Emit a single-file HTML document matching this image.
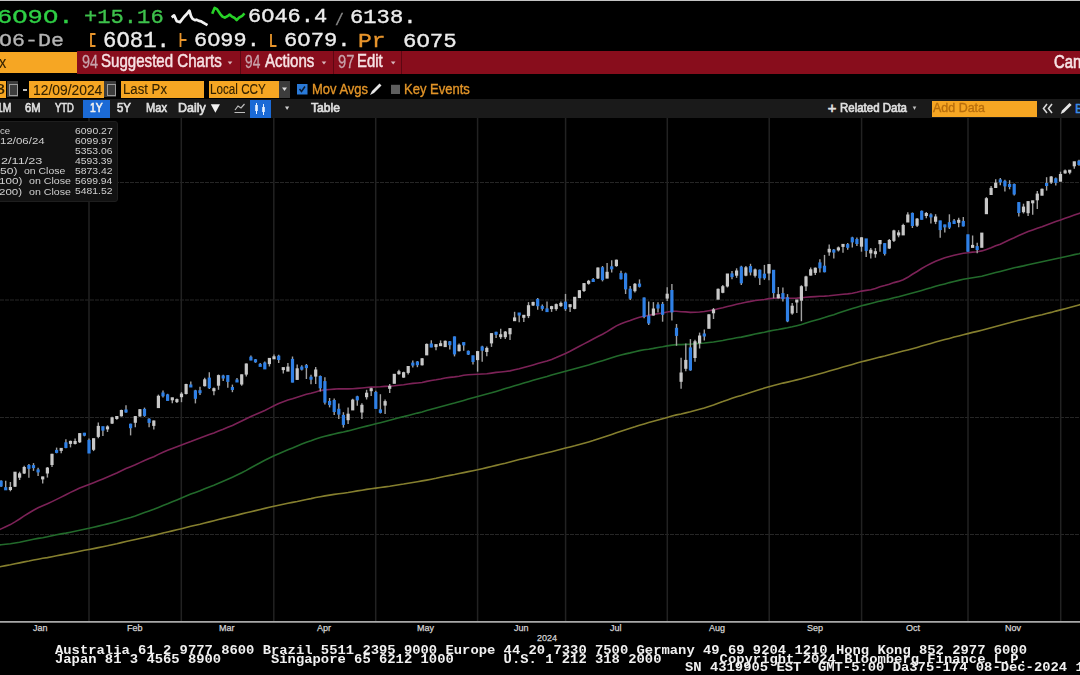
<!DOCTYPE html>
<html><head><meta charset="utf-8">
<style>
html,body{margin:0;padding:0;background:#000;width:1080px;height:675px;overflow:hidden;position:relative}
.a{position:absolute;white-space:pre;line-height:1}
.t{position:absolute;white-space:pre;line-height:1;transform-origin:0 0}
#topline{position:absolute;left:0;top:0;width:1080px;height:1px;background:#c4c4c4}
#redbar{position:absolute;left:77px;top:51px;width:1003px;height:23px;background:#880d1c}
.sep{position:absolute;top:51px;width:1px;height:23px;background:#5c0712}
.ob{position:absolute;background:#f6a623}
#band{position:absolute;left:0;top:99px;width:1080px;height:19px;background:#1a1a1a}
svg{position:absolute;left:0;top:0}
.gr{stroke:#262626;stroke-width:1.1;stroke-dasharray:4 1}
.gv{stroke:#222;stroke-width:1.5}
.m50{fill:none;stroke:#7c2257;stroke-width:1.6}
.m100{fill:none;stroke:#226a2b;stroke-width:1.6}
.m200{fill:none;stroke:#857f2e;stroke-width:1.6}
.u{fill:#c8c8c8}
.d{fill:#2f80e6}
.cg{filter:blur(0.35px)}
.wu{stroke:#a0a0a0;stroke-width:1.4}
.wd{stroke:#a0a0a0;stroke-width:1.4}
#legend{position:absolute;left:-4px;top:121px;width:120px;height:78.5px;background:#121212;border-radius:3px;border:1px solid #1e1e1e}
.lg{font-family:"Liberation Sans",sans-serif;color:#c6c6c6;font-size:9.3px}
.ax{font-family:"Liberation Sans",sans-serif;color:#d4d4d4;font-size:9px;top:624px;-webkit-text-stroke:0.25px #d4d4d4}
.ft{font-family:"Liberation Mono",monospace;font-weight:bold;color:#f0f0f0;font-size:13.85px;transform-origin:0 0;transform:scaleY(0.92)}
</style></head><body>
<div id="topline"></div>
<svg width="480" height="50" style="left:0;top:0">
<polyline points="171.7,17.4 174.1,15.4 176.8,21.3 180,22.1 183.9,17 187,13.8 189.4,10.7 191,16.2 192.6,18.9 194.9,20.1 196.5,19.7 198.9,20.9 201.2,21.3 202.8,22.5 204.4,23.3 207.5,25.2" fill="none" stroke="#f2f2f2" stroke-width="2.7" stroke-linejoin="round"/>
<polyline points="212.2,13.8 214.6,7.9 217,9.1 220.1,13.8 222.5,16.6 224.8,17.7 228,15.8 229.6,14.6 231.9,16.6 234.3,17.7 236.7,20.1 239,17.7 242.2,15.8 244.5,13.4" fill="none" stroke="#27d227" stroke-width="2.6" stroke-linejoin="round"/>
<path d="M95.5,34 L91,34 L91,46 L95.5,46" fill="none" stroke="#e8952c" stroke-width="1.8"/>
<path d="M180.5,33 L180.5,47 M180.5,40 L186.5,40" fill="none" stroke="#e8952c" stroke-width="1.8"/>
<path d="M271,34 L271,46 L276.5,46" fill="none" stroke="#e8952c" stroke-width="1.8"/>
</svg>
<!-- red bar -->
<div class="ob" style="left:0;top:52px;width:77px;height:21px"></div>
<div id="redbar"></div>
<div class="sep" style="left:240px"></div>
<div class="sep" style="left:333px"></div>
<div class="sep" style="left:401px"></div>
<svg width="480" height="80" style="left:0;top:0">
<path d="M227.7,61.4 L232.4,61.4 L230,64.5 Z" fill="#d8b8bc"/>
<path d="M321.6,61.4 L326.3,61.4 L324,64.5 Z" fill="#d8b8bc"/>
<path d="M390.8,61.4 L395.5,61.4 L393.2,64.5 Z" fill="#d8b8bc"/>
</svg>
<!-- row 3 -->
<div class="ob" style="left:0;top:81px;width:6px;height:17px"></div>
<div class="a" style="left:7px;top:81px;width:11px;height:16px;background:#3c3c3c"></div>
<div class="a" style="left:9px;top:84px;width:7px;height:10px;border:1px solid #9a9a9a"></div>
<div class="a" style="left:23px;top:89px;width:4px;height:1.5px;background:#bbb"></div>
<div class="ob" style="left:29px;top:81px;width:75px;height:17px"></div>
<div class="a" style="left:104px;top:81px;width:12px;height:16px;background:#3c3c3c"></div>
<div class="a" style="left:107px;top:84px;width:7px;height:10px;border:1px solid #9a9a9a"></div>
<div class="ob" style="left:121px;top:81px;width:83px;height:16.5px"></div>
<div class="ob" style="left:208.5px;top:81px;width:70px;height:16.5px"></div>
<div class="a" style="left:278.5px;top:81px;width:11px;height:16.5px;background:#3c3c3c"></div>
<svg width="480" height="120" style="left:0;top:0">
<path d="M282,87.5 L287,87.5 L284.5,91 Z" fill="#ddd"/>
<rect x="297" y="84" width="10.5" height="10.5" fill="#2a7ad8"/>
<path d="M299.5,89 L301.5,91.5 L305,86.5" fill="none" stroke="#0a1a30" stroke-width="1.5"/>
<path d="M370,95 L372,91 L379.5,83.5 L381.5,85.5 L374,93 Z" fill="#e6e6e6"/>
<rect x="391" y="84.8" width="9" height="9.2" fill="#5e5e5e"/>
</svg>
<!-- row 4 -->
<div id="band"></div>
<div class="a" style="left:83px;top:99.5px;width:27px;height:18.5px;background:#1b6ad6"></div>
<div class="a" style="left:250px;top:99.5px;width:21px;height:18.5px;background:#1b6ad6"></div>
<div class="ob" style="left:932px;top:100.5px;width:105px;height:16px"></div>
<svg width="1080" height="120" style="left:0;top:0">
<path d="M210.8,104.3 L220,104.3 L215.4,112.7 Z" fill="#f2f2f2"/>
<path d="M234.5,112.5 L245,112.5 M235,110 L238,106 L241,108 L244.5,104" fill="none" stroke="#bdbdbd" stroke-width="1.2"/>
<path d="M256.5,103 L256.5,114 M263.5,104 L263.5,115" stroke="#e6f0ff" stroke-width="1"/>
<rect x="255.2" y="105" width="2.6" height="6" fill="#e6f0ff"/>
<rect x="262.2" y="107" width="2.6" height="5" fill="#e6f0ff"/>
<path d="M285,106.5 L289.2,106.5 L287.1,110 Z" fill="#d0d0d0"/>
<path d="M912.7,106.5 L916.3,106.5 L914.5,110 Z" fill="#c0c0c0"/>
<path d="M1047,104 L1043.5,108.5 L1047,113 M1052,104 L1048.5,108.5 L1052,113" fill="none" stroke="#d8d8d8" stroke-width="1.6"/>
<path d="M1060.7,114 L1062,110.5 L1069.5,103 L1071.6,105 L1064,112.5 Z" fill="#e6e6e6"/>
</svg>
<div class="t" style="left:-2.79px;top:7.63px;font-family:&quot;Liberation Mono&quot;;font-weight:normal;font-size:20.74px;color:#2fd045;transform:scaleX(1.23);-webkit-text-stroke:0.35px #2fd045">6O9O.</div>
<div class="t" style="left:83.67px;top:7.63px;font-family:&quot;Liberation Mono&quot;;font-weight:normal;font-size:20.74px;color:#3ec24c;transform:scaleX(1.067);-webkit-text-stroke:0.35px #3ec24c">+15.16</div>
<div class="t" style="left:247.66px;top:8.24px;font-family:&quot;Liberation Mono&quot;;font-weight:normal;font-size:19.56px;color:#ececec;transform:scaleX(1.125);-webkit-text-stroke:0.35px #ececec">6O46.4</div>
<div class="t" style="left:335.12px;top:13.39px;font-family:&quot;Liberation Mono&quot;;font-weight:normal;font-size:16.89px;color:#8a8a8a;transform:scaleX(0.863);-webkit-text-stroke:0.35px #8a8a8a">/</div>
<div class="t" style="left:350.45px;top:8.65px;font-family:&quot;Liberation Mono&quot;;font-weight:normal;font-size:19.41px;color:#ececec;transform:scaleX(1.143);-webkit-text-stroke:0.35px #ececec">6138.</div>
<div class="t" style="left:-1.08px;top:31.78px;font-family:&quot;Liberation Mono&quot;;font-weight:normal;font-size:19.12px;color:#b4b4b4;transform:scaleX(1.131);-webkit-text-stroke:0.35px #b4b4b4">O6-De</div>
<div class="t" style="left:102.84px;top:30.89px;font-family:&quot;Liberation Mono&quot;;font-weight:normal;font-size:21.18px;color:#ececec;transform:scaleX(1.053);-webkit-text-stroke:0.35px #ececec">6O81.</div>
<div class="t" style="left:194.26px;top:31.37px;font-family:&quot;Liberation Mono&quot;;font-weight:normal;font-size:20.29px;color:#ececec;transform:scaleX(1.081);-webkit-text-stroke:0.35px #ececec">6O99.</div>
<div class="t" style="left:283.75px;top:31.37px;font-family:&quot;Liberation Mono&quot;;font-weight:normal;font-size:20.29px;color:#ececec;transform:scaleX(1.094);-webkit-text-stroke:0.35px #ececec">6O79.</div>
<div class="t" style="left:358.47px;top:32.0px;font-family:&quot;Liberation Mono&quot;;font-weight:normal;font-size:20.0px;color:#e8952c;transform:scaleX(1.146);-webkit-text-stroke:0.35px #e8952c">Pr</div>
<div class="t" style="left:403.14px;top:31.8px;font-family:&quot;Liberation Mono&quot;;font-weight:normal;font-size:20.0px;color:#ececec;transform:scaleX(1.117);-webkit-text-stroke:0.35px #ececec">6O75</div>
<div class="t" style="left:101.04px;top:52.99px;font-family:&quot;Liberation Sans&quot;;font-weight:normal;font-size:17.55px;color:#f6e2e4;transform:scaleX(0.86);-webkit-text-stroke:0.5px #f6e2e4">Suggested Charts</div>
<div class="t" style="left:264.9px;top:52.99px;font-family:&quot;Liberation Sans&quot;;font-weight:normal;font-size:17.57px;color:#f6e2e4;transform:scaleX(0.855);-webkit-text-stroke:0.5px #f6e2e4">Actions</div>
<div class="t" style="left:357.41px;top:52.99px;font-family:&quot;Liberation Sans&quot;;font-weight:normal;font-size:17.57px;color:#f6e2e4;transform:scaleX(0.847);-webkit-text-stroke:0.5px #f6e2e4">Edit</div>
<div class="t" style="left:1054.26px;top:51.95px;font-family:&quot;Liberation Sans&quot;;font-weight:normal;font-size:19.01px;color:#f6e2e4;transform:scaleX(0.78);-webkit-text-stroke:0.7px #f6e2e4">Can</div>
<div class="t" style="left:82.18px;top:52.15px;font-family:&quot;Liberation Sans&quot;;font-weight:normal;font-size:19.01px;color:#c8a4ac;transform:scaleX(0.761);-webkit-text-stroke:0.3px #c8a4ac">94</div>
<div class="t" style="left:244.51px;top:52.15px;font-family:&quot;Liberation Sans&quot;;font-weight:normal;font-size:19.01px;color:#c8a4ac;transform:scaleX(0.725);-webkit-text-stroke:0.3px #c8a4ac">94</div>
<div class="t" style="left:338.16px;top:52.15px;font-family:&quot;Liberation Sans&quot;;font-weight:normal;font-size:19.01px;color:#c8a4ac;transform:scaleX(0.776);-webkit-text-stroke:0.3px #c8a4ac">97</div>
<div class="t" style="left:-4.72px;top:82.09px;font-family:&quot;Liberation Sans&quot;;font-weight:normal;font-size:14.72px;color:#332200;transform:scaleX(1.229);-webkit-text-stroke:0.1px #332200">3</div>
<div class="t" style="left:33.03px;top:82.61px;font-family:&quot;Liberation Sans&quot;;font-weight:normal;font-size:14.12px;color:#332200;transform:scaleX(0.981);-webkit-text-stroke:0.1px #332200">12/09/2024</div>
<div class="t" style="left:122.54px;top:81.23px;font-family:&quot;Liberation Sans&quot;;font-weight:normal;font-size:15.43px;color:#332200;transform:scaleX(0.856);-webkit-text-stroke:0.1px #332200">Last Px</div>
<div class="t" style="left:210.06px;top:81.95px;font-family:&quot;Liberation Sans&quot;;font-weight:normal;font-size:14.59px;color:#332200;transform:scaleX(0.801);-webkit-text-stroke:0.1px #332200">Local CCY</div>
<div class="t" style="left:311.86px;top:81.69px;font-family:&quot;Liberation Sans&quot;;font-weight:normal;font-size:14.44px;color:#e39528;transform:scaleX(0.898);-webkit-text-stroke:0.35px #e39528">Mov Avgs</div>
<div class="t" style="left:404.16px;top:81.69px;font-family:&quot;Liberation Sans&quot;;font-weight:normal;font-size:14.44px;color:#e39528;transform:scaleX(0.901);-webkit-text-stroke:0.35px #e39528">Key Events</div>
<div class="t" style="left:-2.72px;top:101.37px;font-family:&quot;Liberation Sans&quot;;font-weight:normal;font-size:13.33px;color:#e0e0e0;transform:scaleX(0.774);-webkit-text-stroke:0.65px #e0e0e0">1M</div>
<div class="t" style="left:25.24px;top:101.56px;font-family:&quot;Liberation Sans&quot;;font-weight:normal;font-size:12.96px;color:#e0e0e0;transform:scaleX(0.87);-webkit-text-stroke:0.65px #e0e0e0">6M</div>
<div class="t" style="left:54.81px;top:101.4px;font-family:&quot;Liberation Sans&quot;;font-weight:normal;font-size:13.14px;color:#e0e0e0;transform:scaleX(0.721);-webkit-text-stroke:0.65px #e0e0e0">YTD</div>
<div class="t" style="left:90.08px;top:101.37px;font-family:&quot;Liberation Sans&quot;;font-weight:normal;font-size:13.33px;color:#f0f0f0;transform:scaleX(0.777);-webkit-text-stroke:0.65px #f0f0f0">1Y</div>
<div class="t" style="left:117.04px;top:101.4px;font-family:&quot;Liberation Sans&quot;;font-weight:normal;font-size:13.14px;color:#e0e0e0;transform:scaleX(0.872);-webkit-text-stroke:0.65px #e0e0e0">5Y</div>
<div class="t" style="left:145.81px;top:101.4px;font-family:&quot;Liberation Sans&quot;;font-weight:normal;font-size:13.14px;color:#e0e0e0;transform:scaleX(0.845);-webkit-text-stroke:0.65px #e0e0e0">Max</div>
<div class="t" style="left:178.21px;top:102.01px;font-family:&quot;Liberation Sans&quot;;font-weight:normal;font-size:12.45px;color:#e0e0e0;transform:scaleX(0.999);-webkit-text-stroke:0.65px #e0e0e0">Daily</div>
<div class="t" style="left:311.46px;top:102.01px;font-family:&quot;Liberation Sans&quot;;font-weight:normal;font-size:12.43px;color:#e0e0e0;transform:scaleX(0.977);-webkit-text-stroke:0.65px #e0e0e0">Table</div>
<div class="t" style="left:827.67px;top:100.53px;font-family:&quot;Liberation Sans&quot;;font-weight:normal;font-size:14.69px;color:#e0e0e0;transform:scaleX(1.0);-webkit-text-stroke:0.65px #e0e0e0">+</div>
<div class="t" style="left:839.58px;top:102.01px;font-family:&quot;Liberation Sans&quot;;font-weight:normal;font-size:12.43px;color:#e0e0e0;transform:scaleX(0.924);-webkit-text-stroke:0.65px #e0e0e0">Related Data</div>
<div class="t" style="left:933.0px;top:102.01px;font-family:&quot;Liberation Sans&quot;;font-weight:normal;font-size:12.43px;color:#b86e0c;transform:scaleX(1.003);-webkit-text-stroke:0.35px #b86e0c">Add Data</div>
<div class="t" style="left:-0.65px;top:53.57px;font-family:&quot;Liberation Sans&quot;;font-weight:normal;font-size:16.98px;color:#332200;transform:scaleX(0.859);-webkit-text-stroke:0.1px #332200">x</div>
<div class="t" style="left:1075px;top:102px;font-family:&quot;Liberation Sans&quot;;font-size:13px;color:#3a8ee8;-webkit-text-stroke:0.4px #3a8ee8">B</div>
<!-- chart -->
<svg width="1080" height="675" style="left:0;top:0">
<line x1="0" y1="182.5" x2="1080" y2="182.5" class="gr"/>
<line x1="0" y1="300.0" x2="1080" y2="300.0" class="gr"/>
<line x1="0" y1="417.5" x2="1080" y2="417.5" class="gr"/>
<line x1="0" y1="534.5" x2="1080" y2="534.5" class="gr"/>
<line x1="89" y1="118" x2="89" y2="621" class="gv"/>
<line x1="181.3" y1="118" x2="181.3" y2="621" class="gv"/>
<line x1="273.8" y1="118" x2="273.8" y2="621" class="gv"/>
<line x1="375.7" y1="118" x2="375.7" y2="621" class="gv"/>
<line x1="477.6" y1="118" x2="477.6" y2="621" class="gv"/>
<line x1="565.6" y1="118" x2="565.6" y2="621" class="gv"/>
<line x1="667.3" y1="118" x2="667.3" y2="621" class="gv"/>
<line x1="769.2" y1="118" x2="769.2" y2="621" class="gv"/>
<line x1="861.6" y1="118" x2="861.6" y2="621" class="gv"/>
<line x1="968.0" y1="118" x2="968.0" y2="621" class="gv"/>
<line x1="1060.7" y1="118" x2="1060.7" y2="621" class="gv"/>
<path d="M-8.1,568.3 L-3.5,567.4 L1.1,566.5 L5.7,565.6 L10.4,564.8 L15.0,563.8 L19.6,562.9 L24.2,561.9 L28.9,561.0 L33.5,560.0 L38.1,559.2 L42.7,558.3 L47.4,557.6 L52.0,556.7 L56.6,555.8 L61.2,554.9 L65.9,554.0 L70.5,553.1 L75.1,552.2 L79.7,551.2 L84.4,550.3 L89.0,549.5 L93.6,548.6 L98.3,547.6 L102.9,546.7 L107.5,545.8 L112.1,544.7 L116.8,543.7 L121.4,542.6 L126.0,541.5 L130.6,540.5 L135.3,539.5 L139.9,538.5 L144.5,537.5 L149.1,536.5 L153.8,535.4 L158.4,534.3 L163.0,533.1 L167.6,532.0 L172.3,530.9 L176.9,529.8 L181.5,528.7 L186.1,527.5 L190.8,526.3 L195.4,525.2 L200.0,524.2 L204.7,523.0 L209.3,521.9 L213.9,520.8 L218.5,519.6 L223.2,518.4 L227.8,517.3 L232.4,516.2 L237.0,515.1 L241.7,513.9 L246.3,512.8 L250.9,511.7 L255.5,510.6 L260.2,509.5 L264.8,508.4 L269.4,507.3 L274.0,506.2 L278.7,505.2 L283.3,504.2 L287.9,503.3 L292.5,502.4 L297.2,501.5 L301.8,500.5 L306.4,499.5 L311.0,498.6 L315.7,497.5 L320.3,496.7 L324.9,495.9 L329.6,495.1 L334.2,494.4 L338.8,493.8 L343.4,493.2 L348.1,492.5 L352.7,491.7 L357.3,490.9 L361.9,490.2 L366.6,489.4 L371.2,488.7 L375.8,488.1 L380.4,487.5 L385.1,486.9 L389.7,486.3 L394.3,485.5 L398.9,484.7 L403.6,484.0 L408.2,483.2 L412.8,482.5 L417.4,481.7 L422.1,480.9 L426.7,480.1 L431.3,479.2 L436.0,478.3 L440.6,477.3 L445.2,476.3 L449.8,475.4 L454.5,474.5 L459.1,473.5 L463.7,472.6 L468.3,471.6 L473.0,470.7 L477.6,469.8 L482.2,468.7 L486.8,467.6 L491.5,466.5 L496.1,465.4 L500.7,464.2 L505.3,463.2 L510.0,462.0 L514.6,460.8 L519.2,459.6 L523.8,458.5 L528.5,457.4 L533.1,456.3 L537.7,455.1 L542.3,454.0 L547.0,452.8 L551.6,451.7 L556.2,450.5 L560.9,449.3 L565.5,448.1 L570.1,446.9 L574.7,445.8 L579.4,444.5 L584.0,443.2 L588.6,441.9 L593.2,440.5 L597.9,438.9 L602.5,437.5 L607.1,436.0 L611.7,434.4 L616.4,432.7 L621.0,431.2 L625.6,429.7 L630.2,428.3 L634.9,426.8 L639.5,425.2 L644.1,423.9 L648.7,422.6 L653.4,421.3 L658.0,420.0 L662.6,418.7 L667.2,417.4 L671.9,416.0 L676.5,414.9 L681.1,414.0 L685.8,412.9 L690.4,411.8 L695.0,410.5 L699.6,409.2 L704.3,407.9 L708.9,406.4 L713.5,404.9 L718.1,403.2 L722.8,401.6 L727.4,399.9 L732.0,398.3 L736.6,396.8 L741.3,395.4 L745.9,393.9 L750.5,392.4 L755.1,391.0 L759.8,389.5 L764.4,388.1 L769.0,386.7 L773.6,385.5 L778.3,384.3 L782.9,383.1 L787.5,382.1 L792.2,381.0 L796.8,379.9 L801.4,378.7 L806.0,377.5 L810.7,376.2 L815.3,374.9 L819.9,373.7 L824.5,372.4 L829.2,371.1 L833.8,369.8 L838.4,368.5 L843.0,367.1 L847.7,365.7 L852.3,364.4 L856.9,363.1 L861.5,361.8 L866.2,360.6 L870.8,359.4 L875.4,358.3 L880.0,357.1 L884.7,356.0 L889.3,354.8 L893.9,353.5 L898.6,352.3 L903.2,351.1 L907.8,349.9 L912.4,348.7 L917.1,347.4 L921.7,346.1 L926.3,344.7 L930.9,343.4 L935.6,342.0 L940.2,340.8 L944.8,339.6 L949.4,338.4 L954.1,337.1 L958.7,335.9 L963.3,334.7 L967.9,333.6 L972.6,332.4 L977.2,331.4 L981.8,330.3 L986.4,329.1 L991.1,327.8 L995.7,326.5 L1000.3,325.2 L1004.9,323.9 L1009.6,322.7 L1014.2,321.4 L1018.8,320.3 L1023.5,319.2 L1028.1,318.0 L1032.7,316.9 L1037.3,315.8 L1042.0,314.7 L1046.6,313.5 L1051.2,312.4 L1055.8,311.1 L1060.5,309.9 L1065.1,308.7 L1069.7,307.5 L1074.3,306.2 L1079.0,304.9 L1083.6,303.7" class="m200"/>
<path d="M-8.1,546.0 L-3.5,545.3 L1.1,544.8 L5.7,544.2 L10.4,543.7 L15.0,543.0 L19.6,542.2 L24.2,541.2 L28.9,540.2 L33.5,539.3 L38.1,538.4 L42.7,537.7 L47.4,536.8 L52.0,535.8 L56.6,534.8 L61.2,533.9 L65.9,533.1 L70.5,532.2 L75.1,531.3 L79.7,530.3 L84.4,529.2 L89.0,528.3 L93.6,527.2 L98.3,526.1 L102.9,525.0 L107.5,523.9 L112.1,522.7 L116.8,521.4 L121.4,520.1 L126.0,518.7 L130.6,517.4 L135.3,515.9 L139.9,514.2 L144.5,512.6 L149.1,511.0 L153.8,509.3 L158.4,507.5 L163.0,505.6 L167.6,503.8 L172.3,501.8 L176.9,499.9 L181.5,497.9 L186.1,496.0 L190.8,494.1 L195.4,492.4 L200.0,490.7 L204.7,488.8 L209.3,486.9 L213.9,485.2 L218.5,483.3 L223.2,481.3 L227.8,479.3 L232.4,477.2 L237.0,475.0 L241.7,472.8 L246.3,470.4 L250.9,467.8 L255.5,465.2 L260.2,462.7 L264.8,460.3 L269.4,458.0 L274.0,455.8 L278.7,453.7 L283.3,451.7 L287.9,449.8 L292.5,448.0 L297.2,446.0 L301.8,444.1 L306.4,442.2 L311.0,440.7 L315.7,439.0 L320.3,437.6 L324.9,436.3 L329.6,435.1 L334.2,434.0 L338.8,432.9 L343.4,432.0 L348.1,430.9 L352.7,429.7 L357.3,428.5 L361.9,427.3 L366.6,426.1 L371.2,424.9 L375.8,423.8 L380.4,422.7 L385.1,421.5 L389.7,420.3 L394.3,419.0 L398.9,417.7 L403.6,416.6 L408.2,415.4 L412.8,414.3 L417.4,413.1 L422.1,412.0 L426.7,410.6 L431.3,409.3 L436.0,408.0 L440.6,406.7 L445.2,405.5 L449.8,404.3 L454.5,403.1 L459.1,401.8 L463.7,400.4 L468.3,399.0 L473.0,397.7 L477.6,396.5 L482.2,395.3 L486.8,394.1 L491.5,392.8 L496.1,391.4 L500.7,390.1 L505.3,388.6 L510.0,387.2 L514.6,385.8 L519.2,384.5 L523.8,383.1 L528.5,381.7 L533.1,380.3 L537.7,379.0 L542.3,377.7 L547.0,376.5 L551.6,375.0 L556.2,373.7 L560.9,372.4 L565.5,371.2 L570.1,370.0 L574.7,368.8 L579.4,367.5 L584.0,366.3 L588.6,365.0 L593.2,363.5 L597.9,362.0 L602.5,360.7 L607.1,359.3 L611.7,357.8 L616.4,356.2 L621.0,355.0 L625.6,353.9 L630.2,352.9 L634.9,351.7 L639.5,350.6 L644.1,349.8 L648.7,349.2 L653.4,348.4 L658.0,347.5 L662.6,346.8 L667.2,345.9 L671.9,345.1 L676.5,344.6 L681.1,344.6 L685.8,344.4 L690.4,344.3 L695.0,343.8 L699.6,343.4 L704.3,343.0 L708.9,342.5 L713.5,342.0 L718.1,341.3 L722.8,340.5 L727.4,339.5 L732.0,338.7 L736.6,337.8 L741.3,337.1 L745.9,336.1 L750.5,335.1 L755.1,334.0 L759.8,333.1 L764.4,332.2 L769.0,331.1 L773.6,330.3 L778.3,329.5 L782.9,328.6 L787.5,327.8 L792.2,326.8 L796.8,325.7 L801.4,324.5 L806.0,323.0 L810.7,321.5 L815.3,320.2 L819.9,318.9 L824.5,317.6 L829.2,316.1 L833.8,314.7 L838.4,313.1 L843.0,311.5 L847.7,309.9 L852.3,308.5 L856.9,307.2 L861.5,305.8 L866.2,304.6 L870.8,303.4 L875.4,302.3 L880.0,301.1 L884.7,300.0 L889.3,299.0 L893.9,297.8 L898.6,296.7 L903.2,295.5 L907.8,294.2 L912.4,293.0 L917.1,291.7 L921.7,290.4 L926.3,289.1 L930.9,287.8 L935.6,286.3 L940.2,285.1 L944.8,283.9 L949.4,282.6 L954.1,281.5 L958.7,280.4 L963.3,279.3 L967.9,278.5 L972.6,277.7 L977.2,277.0 L981.8,276.2 L986.4,275.0 L991.1,273.8 L995.7,272.6 L1000.3,271.4 L1004.9,270.2 L1009.6,268.9 L1014.2,267.8 L1018.8,266.9 L1023.5,265.9 L1028.1,264.8 L1032.7,263.8 L1037.3,262.8 L1042.0,261.8 L1046.6,260.8 L1051.2,259.7 L1055.8,258.7 L1060.5,257.8 L1065.1,256.7 L1069.7,255.7 L1074.3,254.6 L1079.0,253.7 L1083.6,252.5" class="m100"/>
<path d="M-8.1,533.4 L-3.5,531.2 L1.1,528.9 L5.7,526.7 L10.4,524.6 L15.0,521.9 L19.6,519.0 L24.2,515.9 L28.9,513.0 L33.5,510.2 L38.1,507.8 L42.7,505.8 L47.4,503.8 L52.0,501.6 L56.6,499.4 L61.2,497.1 L65.9,494.7 L70.5,492.4 L75.1,490.2 L79.7,488.1 L84.4,486.2 L89.0,484.6 L93.6,482.7 L98.3,480.8 L102.9,478.9 L107.5,477.0 L112.1,475.0 L116.8,472.9 L121.4,470.7 L126.0,468.5 L130.6,466.7 L135.3,464.8 L139.9,462.6 L144.5,460.5 L149.1,458.5 L153.8,456.7 L158.4,454.4 L163.0,452.2 L167.6,450.2 L172.3,448.5 L176.9,446.8 L181.5,445.1 L186.1,443.2 L190.8,441.5 L195.4,439.7 L200.0,438.1 L204.7,436.2 L209.3,434.5 L213.9,432.9 L218.5,431.1 L223.2,429.3 L227.8,427.3 L232.4,425.4 L237.0,423.2 L241.7,421.0 L246.3,418.8 L250.9,416.5 L255.5,414.4 L260.2,412.4 L264.8,410.4 L269.4,408.1 L274.0,405.7 L278.7,403.6 L283.3,401.8 L287.9,400.1 L292.5,398.8 L297.2,397.2 L301.8,395.8 L306.4,394.3 L311.0,393.2 L315.7,391.9 L320.3,390.6 L324.9,389.9 L329.6,389.5 L334.2,389.1 L338.8,388.8 L343.4,388.9 L348.1,388.9 L352.7,388.7 L357.3,388.4 L361.9,388.0 L366.6,387.5 L371.2,387.1 L375.8,387.0 L380.4,386.8 L385.1,386.4 L389.7,386.2 L394.3,385.8 L398.9,385.2 L403.6,384.7 L408.2,384.0 L412.8,383.4 L417.4,383.0 L422.1,382.5 L426.7,381.4 L431.3,380.5 L436.0,379.8 L440.6,379.0 L445.2,378.0 L449.8,377.4 L454.5,376.9 L459.1,376.2 L463.7,375.3 L468.3,374.8 L473.0,374.5 L477.6,374.2 L482.2,374.0 L486.8,373.8 L491.5,373.1 L496.1,372.4 L500.7,372.0 L505.3,371.5 L510.0,370.9 L514.6,369.8 L519.2,368.8 L523.8,367.5 L528.5,366.2 L533.1,364.9 L537.7,363.6 L542.3,362.2 L547.0,361.0 L551.6,359.4 L556.2,357.5 L560.9,355.4 L565.5,353.4 L570.1,351.2 L574.7,348.7 L579.4,346.2 L584.0,343.9 L588.6,341.5 L593.2,339.0 L597.9,336.5 L602.5,334.3 L607.1,331.6 L611.7,328.7 L616.4,325.9 L621.0,323.7 L625.6,322.0 L630.2,320.6 L634.9,318.8 L639.5,317.2 L644.1,316.2 L648.7,315.4 L653.4,314.4 L658.0,313.7 L662.6,313.0 L667.2,312.0 L671.9,311.3 L676.5,311.2 L681.1,311.8 L685.8,311.9 L690.4,312.4 L695.0,312.3 L699.6,312.0 L704.3,311.5 L708.9,310.7 L713.5,309.9 L718.1,308.7 L722.8,307.8 L727.4,306.6 L732.0,305.4 L736.6,304.2 L741.3,303.3 L745.9,302.3 L750.5,301.4 L755.1,300.5 L759.8,300.0 L764.4,299.5 L769.0,298.6 L773.6,298.3 L778.3,298.0 L782.9,297.8 L787.5,298.2 L792.2,298.2 L796.8,298.1 L801.4,297.7 L806.0,297.3 L810.7,296.9 L815.3,296.6 L819.9,296.3 L824.5,296.1 L829.2,295.7 L833.8,295.2 L838.4,294.7 L843.0,294.2 L847.7,293.9 L852.3,293.2 L856.9,292.3 L861.5,291.1 L866.2,290.4 L870.8,289.7 L875.4,288.4 L880.0,286.7 L884.7,285.6 L889.3,284.3 L893.9,282.6 L898.6,281.4 L903.2,279.7 L907.8,277.3 L912.4,274.3 L917.1,271.5 L921.7,268.5 L926.3,265.9 L930.9,263.5 L935.6,261.2 L940.2,259.5 L944.8,257.8 L949.4,256.5 L954.1,255.3 L958.7,254.2 L963.3,253.2 L967.9,252.8 L972.6,252.1 L977.2,251.7 L981.8,250.9 L986.4,249.5 L991.1,247.7 L995.7,245.8 L1000.3,244.2 L1004.9,242.0 L1009.6,239.8 L1014.2,237.8 L1018.8,235.6 L1023.5,233.6 L1028.1,231.6 L1032.7,229.9 L1037.3,228.3 L1042.0,226.7 L1046.6,225.0 L1051.2,223.2 L1055.8,221.4 L1060.5,219.9 L1065.1,218.3 L1069.7,216.7 L1074.3,215.1 L1079.0,213.4 L1083.6,211.8" class="m50"/>
<g class="cg">
<line x1="-3.5" y1="474.3" x2="-3.5" y2="481.8" class="wd"/>
<rect x="-5.1" y="475.3" width="3.2" height="3.0" class="d"/>
<line x1="1.1" y1="480.2" x2="1.1" y2="487.1" class="wd"/>
<rect x="-0.5" y="480.7" width="3.2" height="5.8" class="d"/>
<line x1="5.7" y1="480.8" x2="5.7" y2="490.0" class="wd"/>
<rect x="4.1" y="487.2" width="3.2" height="3.1" class="d"/>
<line x1="10.4" y1="482.0" x2="10.4" y2="491.3" class="wu"/>
<rect x="8.8" y="487.0" width="3.2" height="3.0" class="u"/>
<line x1="15.0" y1="471.9" x2="15.0" y2="487.1" class="wu"/>
<rect x="13.4" y="471.7" width="3.2" height="15.0" class="u"/>
<line x1="19.6" y1="471.7" x2="19.6" y2="480.0" class="wu"/>
<rect x="18.0" y="473.3" width="3.2" height="4.4" class="u"/>
<line x1="24.2" y1="465.8" x2="24.2" y2="473.9" class="wu"/>
<rect x="22.6" y="467.0" width="3.2" height="6.5" class="u"/>
<line x1="28.9" y1="464.0" x2="28.9" y2="477.8" class="wd"/>
<rect x="27.3" y="465.0" width="3.2" height="3.8" class="d"/>
<line x1="33.5" y1="463.1" x2="33.5" y2="470.9" class="wd"/>
<rect x="31.9" y="465.1" width="3.2" height="3.0" class="d"/>
<line x1="38.1" y1="467.8" x2="38.1" y2="476.0" class="wd"/>
<rect x="36.5" y="469.4" width="3.2" height="3.0" class="d"/>
<line x1="42.7" y1="476.7" x2="42.7" y2="483.6" class="wu"/>
<rect x="41.1" y="476.4" width="3.2" height="3.0" class="u"/>
<line x1="47.4" y1="467.0" x2="47.4" y2="477.6" class="wu"/>
<rect x="45.8" y="467.6" width="3.2" height="5.9" class="u"/>
<line x1="52.0" y1="453.8" x2="52.0" y2="466.9" class="wu"/>
<rect x="50.4" y="453.8" width="3.2" height="11.2" class="u"/>
<line x1="56.6" y1="447.6" x2="56.6" y2="453.3" class="wd"/>
<rect x="55.0" y="449.9" width="3.2" height="3.0" class="d"/>
<line x1="61.2" y1="448.0" x2="61.2" y2="453.2" class="wu"/>
<rect x="59.6" y="447.9" width="3.2" height="3.0" class="u"/>
<line x1="65.9" y1="439.3" x2="65.9" y2="448.2" class="wd"/>
<rect x="64.3" y="442.3" width="3.2" height="5.7" class="d"/>
<line x1="70.5" y1="440.6" x2="70.5" y2="447.4" class="wu"/>
<rect x="68.9" y="440.9" width="3.2" height="3.0" class="u"/>
<line x1="75.1" y1="438.6" x2="75.1" y2="444.5" class="wu"/>
<rect x="73.5" y="441.0" width="3.2" height="3.0" class="u"/>
<line x1="79.7" y1="433.3" x2="79.7" y2="443.1" class="wu"/>
<rect x="78.1" y="433.1" width="3.2" height="9.2" class="u"/>
<line x1="84.4" y1="432.9" x2="84.4" y2="436.3" class="wd"/>
<rect x="82.8" y="432.7" width="3.2" height="3.0" class="d"/>
<line x1="89.0" y1="438.6" x2="89.0" y2="453.0" class="wd"/>
<rect x="87.4" y="439.9" width="3.2" height="13.6" class="d"/>
<line x1="93.6" y1="438.5" x2="93.6" y2="451.1" class="wu"/>
<rect x="92.0" y="438.2" width="3.2" height="11.6" class="u"/>
<line x1="98.3" y1="422.5" x2="98.3" y2="438.3" class="wu"/>
<rect x="96.7" y="425.9" width="3.2" height="11.0" class="u"/>
<line x1="102.9" y1="426.7" x2="102.9" y2="435.9" class="wd"/>
<rect x="101.3" y="426.2" width="3.2" height="4.4" class="d"/>
<line x1="107.5" y1="425.3" x2="107.5" y2="432.0" class="wu"/>
<rect x="105.9" y="426.4" width="3.2" height="3.0" class="u"/>
<line x1="112.1" y1="416.7" x2="112.1" y2="424.0" class="wu"/>
<rect x="110.5" y="417.4" width="3.2" height="6.2" class="u"/>
<line x1="116.8" y1="416.6" x2="116.8" y2="419.7" class="wu"/>
<rect x="115.2" y="416.0" width="3.2" height="3.0" class="u"/>
<line x1="121.4" y1="409.6" x2="121.4" y2="416.6" class="wu"/>
<rect x="119.8" y="410.0" width="3.2" height="6.3" class="u"/>
<line x1="126.0" y1="405.3" x2="126.0" y2="412.8" class="wd"/>
<rect x="124.4" y="409.5" width="3.2" height="3.0" class="d"/>
<line x1="130.6" y1="423.7" x2="130.6" y2="435.4" class="wd"/>
<rect x="129.0" y="423.7" width="3.2" height="4.5" class="d"/>
<line x1="135.3" y1="416.1" x2="135.3" y2="427.2" class="wu"/>
<rect x="133.7" y="416.1" width="3.2" height="6.7" class="u"/>
<line x1="139.9" y1="409.0" x2="139.9" y2="416.8" class="wu"/>
<rect x="138.3" y="409.2" width="3.2" height="7.2" class="u"/>
<line x1="144.5" y1="407.6" x2="144.5" y2="416.8" class="wd"/>
<rect x="142.9" y="408.9" width="3.2" height="7.0" class="d"/>
<line x1="149.1" y1="418.2" x2="149.1" y2="427.3" class="wd"/>
<rect x="147.5" y="418.7" width="3.2" height="4.2" class="d"/>
<line x1="153.8" y1="420.6" x2="153.8" y2="429.4" class="wu"/>
<rect x="152.2" y="420.5" width="3.2" height="5.4" class="u"/>
<line x1="158.4" y1="394.6" x2="158.4" y2="407.6" class="wu"/>
<rect x="156.8" y="395.8" width="3.2" height="12.3" class="u"/>
<line x1="163.0" y1="390.6" x2="163.0" y2="397.6" class="wd"/>
<rect x="161.4" y="392.5" width="3.2" height="3.8" class="d"/>
<line x1="167.6" y1="393.8" x2="167.6" y2="400.5" class="wd"/>
<rect x="166.0" y="394.4" width="3.2" height="6.5" class="d"/>
<line x1="172.3" y1="397.8" x2="172.3" y2="403.3" class="wu"/>
<rect x="170.7" y="397.3" width="3.2" height="3.0" class="u"/>
<line x1="176.9" y1="398.5" x2="176.9" y2="403.0" class="wu"/>
<rect x="175.3" y="399.1" width="3.2" height="3.0" class="u"/>
<line x1="181.5" y1="392.1" x2="181.5" y2="402.2" class="wu"/>
<rect x="179.9" y="393.6" width="3.2" height="3.6" class="u"/>
<line x1="186.1" y1="383.8" x2="186.1" y2="394.6" class="wu"/>
<rect x="184.5" y="384.0" width="3.2" height="10.0" class="u"/>
<line x1="190.8" y1="381.6" x2="190.8" y2="386.9" class="wd"/>
<rect x="189.2" y="384.5" width="3.2" height="3.0" class="d"/>
<line x1="195.4" y1="389.8" x2="195.4" y2="403.4" class="wd"/>
<rect x="193.8" y="390.3" width="3.2" height="8.5" class="d"/>
<line x1="200.0" y1="386.7" x2="200.0" y2="395.1" class="wd"/>
<rect x="198.4" y="390.2" width="3.2" height="3.0" class="d"/>
<line x1="204.7" y1="377.8" x2="204.7" y2="386.6" class="wu"/>
<rect x="203.1" y="379.3" width="3.2" height="6.9" class="u"/>
<line x1="209.3" y1="372.3" x2="209.3" y2="389.1" class="wd"/>
<rect x="207.7" y="377.6" width="3.2" height="10.6" class="d"/>
<line x1="213.9" y1="387.5" x2="213.9" y2="395.3" class="wu"/>
<rect x="212.3" y="388.2" width="3.2" height="3.0" class="u"/>
<line x1="218.5" y1="374.5" x2="218.5" y2="389.8" class="wu"/>
<rect x="216.9" y="375.1" width="3.2" height="10.6" class="u"/>
<line x1="223.2" y1="374.7" x2="223.2" y2="381.1" class="wd"/>
<rect x="221.6" y="375.5" width="3.2" height="3.0" class="d"/>
<line x1="227.8" y1="375.2" x2="227.8" y2="387.8" class="wd"/>
<rect x="226.2" y="375.1" width="3.2" height="6.8" class="d"/>
<line x1="232.4" y1="384.6" x2="232.4" y2="392.2" class="wd"/>
<rect x="230.8" y="387.0" width="3.2" height="3.0" class="d"/>
<line x1="237.0" y1="378.1" x2="237.0" y2="382.0" class="wd"/>
<rect x="235.4" y="379.5" width="3.2" height="3.0" class="d"/>
<line x1="241.7" y1="374.4" x2="241.7" y2="385.8" class="wu"/>
<rect x="240.1" y="374.3" width="3.2" height="10.2" class="u"/>
<line x1="246.3" y1="363.6" x2="246.3" y2="376.5" class="wu"/>
<rect x="244.7" y="363.5" width="3.2" height="11.1" class="u"/>
<line x1="250.9" y1="355.4" x2="250.9" y2="360.2" class="wd"/>
<rect x="249.3" y="356.7" width="3.2" height="3.8" class="d"/>
<line x1="255.5" y1="359.0" x2="255.5" y2="362.8" class="wd"/>
<rect x="253.9" y="359.3" width="3.2" height="3.0" class="d"/>
<line x1="260.2" y1="363.0" x2="260.2" y2="366.0" class="wd"/>
<rect x="258.6" y="363.9" width="3.2" height="3.0" class="d"/>
<line x1="264.8" y1="361.5" x2="264.8" y2="369.0" class="wd"/>
<rect x="263.2" y="362.5" width="3.2" height="6.9" class="d"/>
<line x1="269.4" y1="358.2" x2="269.4" y2="366.5" class="wu"/>
<rect x="267.8" y="357.9" width="3.2" height="6.2" class="u"/>
<line x1="274.0" y1="354.6" x2="274.0" y2="359.0" class="wu"/>
<rect x="272.4" y="356.3" width="3.2" height="3.0" class="u"/>
<line x1="278.7" y1="354.8" x2="278.7" y2="362.9" class="wd"/>
<rect x="277.1" y="355.7" width="3.2" height="4.3" class="d"/>
<line x1="283.3" y1="367.8" x2="283.3" y2="373.5" class="wu"/>
<rect x="281.7" y="367.1" width="3.2" height="3.0" class="u"/>
<line x1="287.9" y1="363.0" x2="287.9" y2="371.1" class="wu"/>
<rect x="286.3" y="366.6" width="3.2" height="5.0" class="u"/>
<line x1="292.5" y1="356.5" x2="292.5" y2="382.4" class="wd"/>
<rect x="290.9" y="358.9" width="3.2" height="23.7" class="d"/>
<line x1="297.2" y1="364.6" x2="297.2" y2="379.8" class="wu"/>
<rect x="295.6" y="368.3" width="3.2" height="11.6" class="u"/>
<line x1="301.8" y1="365.2" x2="301.8" y2="370.4" class="wd"/>
<rect x="300.2" y="366.6" width="3.2" height="3.1" class="d"/>
<line x1="306.4" y1="364.0" x2="306.4" y2="379.0" class="wd"/>
<rect x="304.8" y="365.1" width="3.2" height="3.0" class="d"/>
<line x1="311.0" y1="374.8" x2="311.0" y2="384.2" class="wd"/>
<rect x="309.4" y="376.7" width="3.2" height="3.0" class="d"/>
<line x1="315.7" y1="367.0" x2="315.7" y2="384.1" class="wu"/>
<rect x="314.1" y="369.5" width="3.2" height="7.1" class="u"/>
<line x1="320.3" y1="375.6" x2="320.3" y2="391.4" class="wd"/>
<rect x="318.7" y="376.0" width="3.2" height="12.3" class="d"/>
<line x1="324.9" y1="377.2" x2="324.9" y2="404.4" class="wd"/>
<rect x="323.3" y="381.1" width="3.2" height="21.6" class="d"/>
<line x1="329.6" y1="398.0" x2="329.6" y2="407.4" class="wd"/>
<rect x="328.0" y="401.0" width="3.2" height="4.1" class="d"/>
<line x1="334.2" y1="398.4" x2="334.2" y2="415.0" class="wd"/>
<rect x="332.6" y="400.0" width="3.2" height="12.0" class="d"/>
<line x1="338.8" y1="403.4" x2="338.8" y2="418.9" class="wd"/>
<rect x="337.2" y="408.8" width="3.2" height="5.8" class="d"/>
<line x1="343.4" y1="412.2" x2="343.4" y2="427.6" class="wd"/>
<rect x="341.8" y="414.9" width="3.2" height="10.0" class="d"/>
<line x1="348.1" y1="407.6" x2="348.1" y2="423.9" class="wu"/>
<rect x="346.5" y="413.7" width="3.2" height="6.5" class="u"/>
<line x1="352.7" y1="398.8" x2="352.7" y2="410.1" class="wu"/>
<rect x="351.1" y="399.6" width="3.2" height="10.8" class="u"/>
<line x1="357.3" y1="395.7" x2="357.3" y2="405.7" class="wd"/>
<rect x="355.7" y="396.3" width="3.2" height="4.1" class="d"/>
<line x1="361.9" y1="403.2" x2="361.9" y2="418.9" class="wu"/>
<rect x="360.3" y="404.8" width="3.2" height="7.7" class="u"/>
<line x1="366.6" y1="389.8" x2="366.6" y2="399.5" class="wu"/>
<rect x="365.0" y="392.7" width="3.2" height="4.5" class="u"/>
<line x1="371.2" y1="387.7" x2="371.2" y2="395.9" class="wu"/>
<rect x="369.6" y="388.2" width="3.2" height="3.0" class="u"/>
<line x1="375.8" y1="390.7" x2="375.8" y2="408.4" class="wd"/>
<rect x="374.2" y="391.9" width="3.2" height="17.0" class="d"/>
<line x1="380.4" y1="394.2" x2="380.4" y2="413.5" class="wd"/>
<rect x="378.8" y="409.4" width="3.2" height="3.5" class="d"/>
<line x1="385.1" y1="399.5" x2="385.1" y2="414.1" class="wu"/>
<rect x="383.5" y="401.1" width="3.2" height="4.5" class="u"/>
<line x1="389.7" y1="384.1" x2="389.7" y2="393.0" class="wu"/>
<rect x="388.1" y="385.8" width="3.2" height="3.0" class="u"/>
<line x1="394.3" y1="374.2" x2="394.3" y2="383.3" class="wu"/>
<rect x="392.7" y="373.8" width="3.2" height="10.0" class="u"/>
<line x1="398.9" y1="369.7" x2="398.9" y2="374.7" class="wu"/>
<rect x="397.3" y="371.2" width="3.2" height="3.0" class="u"/>
<line x1="403.6" y1="371.7" x2="403.6" y2="377.8" class="wu"/>
<rect x="402.0" y="372.2" width="3.2" height="5.4" class="u"/>
<line x1="408.2" y1="366.2" x2="408.2" y2="374.4" class="wu"/>
<rect x="406.6" y="366.0" width="3.2" height="6.9" class="u"/>
<line x1="412.8" y1="360.5" x2="412.8" y2="367.5" class="wd"/>
<rect x="411.2" y="362.6" width="3.2" height="3.0" class="d"/>
<line x1="417.4" y1="361.0" x2="417.4" y2="367.2" class="wd"/>
<rect x="415.8" y="361.5" width="3.2" height="3.7" class="d"/>
<line x1="422.1" y1="358.0" x2="422.1" y2="365.6" class="wu"/>
<rect x="420.5" y="358.3" width="3.2" height="7.0" class="u"/>
<line x1="426.7" y1="343.6" x2="426.7" y2="354.9" class="wu"/>
<rect x="425.1" y="343.9" width="3.2" height="11.5" class="u"/>
<line x1="431.3" y1="340.3" x2="431.3" y2="347.2" class="wd"/>
<rect x="429.7" y="343.5" width="3.2" height="4.0" class="d"/>
<line x1="436.0" y1="345.0" x2="436.0" y2="350.2" class="wu"/>
<rect x="434.4" y="344.1" width="3.2" height="3.0" class="u"/>
<line x1="440.6" y1="340.4" x2="440.6" y2="345.8" class="wu"/>
<rect x="439.0" y="343.2" width="3.2" height="3.0" class="u"/>
<line x1="445.2" y1="340.6" x2="445.2" y2="346.8" class="wu"/>
<rect x="443.6" y="340.8" width="3.2" height="6.3" class="u"/>
<line x1="449.8" y1="340.9" x2="449.8" y2="349.6" class="wd"/>
<rect x="448.2" y="341.3" width="3.2" height="3.9" class="d"/>
<line x1="454.5" y1="336.5" x2="454.5" y2="356.4" class="wd"/>
<rect x="452.9" y="336.4" width="3.2" height="18.0" class="d"/>
<line x1="459.1" y1="343.6" x2="459.1" y2="351.4" class="wu"/>
<rect x="457.5" y="344.7" width="3.2" height="6.5" class="u"/>
<line x1="463.7" y1="342.6" x2="463.7" y2="350.8" class="wd"/>
<rect x="462.1" y="342.1" width="3.2" height="3.3" class="d"/>
<line x1="468.3" y1="350.5" x2="468.3" y2="355.1" class="wd"/>
<rect x="466.7" y="350.8" width="3.2" height="3.8" class="d"/>
<line x1="473.0" y1="355.7" x2="473.0" y2="364.6" class="wd"/>
<rect x="471.4" y="355.3" width="3.2" height="6.7" class="d"/>
<line x1="477.6" y1="350.9" x2="477.6" y2="371.7" class="wu"/>
<rect x="476.0" y="351.1" width="3.2" height="9.0" class="u"/>
<line x1="482.2" y1="345.8" x2="482.2" y2="361.7" class="wd"/>
<rect x="480.6" y="346.5" width="3.2" height="4.2" class="d"/>
<line x1="486.8" y1="346.6" x2="486.8" y2="356.3" class="wu"/>
<rect x="485.2" y="347.9" width="3.2" height="4.1" class="u"/>
<line x1="491.5" y1="333.6" x2="491.5" y2="346.9" class="wu"/>
<rect x="489.9" y="333.1" width="3.2" height="10.3" class="u"/>
<line x1="496.1" y1="331.7" x2="496.1" y2="338.0" class="wd"/>
<rect x="494.5" y="331.8" width="3.2" height="3.0" class="d"/>
<line x1="500.7" y1="328.7" x2="500.7" y2="339.0" class="wu"/>
<rect x="499.1" y="334.2" width="3.2" height="3.0" class="u"/>
<line x1="505.3" y1="330.9" x2="505.3" y2="338.9" class="wu"/>
<rect x="503.7" y="331.6" width="3.2" height="5.6" class="u"/>
<line x1="510.0" y1="328.5" x2="510.0" y2="339.9" class="wu"/>
<rect x="508.4" y="328.1" width="3.2" height="6.2" class="u"/>
<line x1="514.6" y1="311.8" x2="514.6" y2="320.7" class="wu"/>
<rect x="513.0" y="317.4" width="3.2" height="3.8" class="u"/>
<line x1="519.2" y1="313.0" x2="519.2" y2="322.3" class="wd"/>
<rect x="517.6" y="312.5" width="3.2" height="3.0" class="d"/>
<line x1="523.8" y1="315.3" x2="523.8" y2="322.0" class="wu"/>
<rect x="522.2" y="314.8" width="3.2" height="3.0" class="u"/>
<line x1="528.5" y1="302.1" x2="528.5" y2="318.1" class="wu"/>
<rect x="526.9" y="305.2" width="3.2" height="10.9" class="u"/>
<line x1="533.1" y1="301.7" x2="533.1" y2="306.1" class="wu"/>
<rect x="531.5" y="301.9" width="3.2" height="3.6" class="u"/>
<line x1="537.7" y1="298.1" x2="537.7" y2="309.8" class="wd"/>
<rect x="536.1" y="298.9" width="3.2" height="7.3" class="d"/>
<line x1="542.3" y1="304.5" x2="542.3" y2="310.7" class="wd"/>
<rect x="540.7" y="305.9" width="3.2" height="3.0" class="d"/>
<line x1="547.0" y1="301.6" x2="547.0" y2="311.7" class="wd"/>
<rect x="545.4" y="308.4" width="3.2" height="3.7" class="d"/>
<line x1="551.6" y1="305.8" x2="551.6" y2="311.9" class="wu"/>
<rect x="550.0" y="306.1" width="3.2" height="3.0" class="u"/>
<line x1="556.2" y1="303.4" x2="556.2" y2="310.7" class="wu"/>
<rect x="554.6" y="304.1" width="3.2" height="5.0" class="u"/>
<line x1="560.9" y1="301.6" x2="560.9" y2="307.0" class="wu"/>
<rect x="559.3" y="302.9" width="3.2" height="3.2" class="u"/>
<line x1="565.5" y1="293.9" x2="565.5" y2="310.9" class="wd"/>
<rect x="563.9" y="301.6" width="3.2" height="7.6" class="d"/>
<line x1="570.1" y1="304.2" x2="570.1" y2="311.9" class="wu"/>
<rect x="568.5" y="304.2" width="3.2" height="3.0" class="u"/>
<line x1="574.7" y1="297.1" x2="574.7" y2="309.2" class="wu"/>
<rect x="573.1" y="296.8" width="3.2" height="12.1" class="u"/>
<line x1="579.4" y1="290.2" x2="579.4" y2="297.7" class="wu"/>
<rect x="577.8" y="290.2" width="3.2" height="7.9" class="u"/>
<line x1="584.0" y1="282.9" x2="584.0" y2="292.0" class="wu"/>
<rect x="582.4" y="283.1" width="3.2" height="7.9" class="u"/>
<line x1="588.6" y1="279.9" x2="588.6" y2="284.7" class="wu"/>
<rect x="587.0" y="280.8" width="3.2" height="3.0" class="u"/>
<line x1="593.2" y1="278.1" x2="593.2" y2="281.9" class="wd"/>
<rect x="591.6" y="279.0" width="3.2" height="3.0" class="d"/>
<line x1="597.9" y1="267.6" x2="597.9" y2="279.1" class="wu"/>
<rect x="596.3" y="267.5" width="3.2" height="11.0" class="u"/>
<line x1="602.5" y1="266.0" x2="602.5" y2="281.4" class="wd"/>
<rect x="600.9" y="267.2" width="3.2" height="12.9" class="d"/>
<line x1="607.1" y1="262.9" x2="607.1" y2="278.2" class="wu"/>
<rect x="605.5" y="271.8" width="3.2" height="6.8" class="u"/>
<line x1="611.7" y1="260.2" x2="611.7" y2="272.5" class="wd"/>
<rect x="610.1" y="266.3" width="3.2" height="3.0" class="d"/>
<line x1="616.4" y1="259.6" x2="616.4" y2="266.8" class="wu"/>
<rect x="614.8" y="259.7" width="3.2" height="6.4" class="u"/>
<line x1="621.0" y1="270.7" x2="621.0" y2="279.5" class="wd"/>
<rect x="619.4" y="273.1" width="3.2" height="6.1" class="d"/>
<line x1="625.6" y1="272.6" x2="625.6" y2="294.0" class="wd"/>
<rect x="624.0" y="273.4" width="3.2" height="16.0" class="d"/>
<line x1="630.2" y1="285.9" x2="630.2" y2="300.1" class="wd"/>
<rect x="628.6" y="288.7" width="3.2" height="10.0" class="d"/>
<line x1="634.9" y1="282.9" x2="634.9" y2="292.6" class="wu"/>
<rect x="633.3" y="283.8" width="3.2" height="7.4" class="u"/>
<line x1="639.5" y1="279.4" x2="639.5" y2="287.5" class="wd"/>
<rect x="637.9" y="283.6" width="3.2" height="3.2" class="d"/>
<line x1="644.1" y1="297.5" x2="644.1" y2="318.2" class="wd"/>
<rect x="642.5" y="297.5" width="3.2" height="19.5" class="d"/>
<line x1="648.7" y1="301.4" x2="648.7" y2="325.0" class="wd"/>
<rect x="647.1" y="315.6" width="3.2" height="7.9" class="d"/>
<line x1="653.4" y1="302.1" x2="653.4" y2="315.7" class="wu"/>
<rect x="651.8" y="308.5" width="3.2" height="7.0" class="u"/>
<line x1="658.0" y1="302.3" x2="658.0" y2="312.4" class="wd"/>
<rect x="656.4" y="304.4" width="3.2" height="4.1" class="d"/>
<line x1="662.6" y1="301.9" x2="662.6" y2="321.7" class="wd"/>
<rect x="661.0" y="303.9" width="3.2" height="10.9" class="d"/>
<line x1="667.2" y1="287.3" x2="667.2" y2="300.9" class="wu"/>
<rect x="665.6" y="293.7" width="3.2" height="4.9" class="u"/>
<line x1="671.9" y1="283.9" x2="671.9" y2="320.4" class="wd"/>
<rect x="670.3" y="290.0" width="3.2" height="22.4" class="d"/>
<line x1="676.5" y1="324.0" x2="676.5" y2="345.8" class="wd"/>
<rect x="674.9" y="327.8" width="3.2" height="8.1" class="d"/>
<line x1="681.1" y1="357.8" x2="681.1" y2="388.7" class="wu"/>
<rect x="679.5" y="372.5" width="3.2" height="9.3" class="u"/>
<line x1="685.8" y1="343.4" x2="685.8" y2="371.3" class="wu"/>
<rect x="684.2" y="359.9" width="3.2" height="8.9" class="u"/>
<line x1="690.4" y1="339.1" x2="690.4" y2="370.8" class="wd"/>
<rect x="688.8" y="347.4" width="3.2" height="23.0" class="d"/>
<line x1="695.0" y1="339.7" x2="695.0" y2="361.8" class="wu"/>
<rect x="693.4" y="341.3" width="3.2" height="16.7" class="u"/>
<line x1="699.6" y1="332.6" x2="699.6" y2="348.5" class="wu"/>
<rect x="698.0" y="335.5" width="3.2" height="7.9" class="u"/>
<line x1="704.3" y1="329.6" x2="704.3" y2="340.6" class="wd"/>
<rect x="702.7" y="333.5" width="3.2" height="3.0" class="d"/>
<line x1="708.9" y1="314.3" x2="708.9" y2="328.3" class="wu"/>
<rect x="707.3" y="314.3" width="3.2" height="14.5" class="u"/>
<line x1="713.5" y1="308.0" x2="713.5" y2="319.0" class="wu"/>
<rect x="711.9" y="309.4" width="3.2" height="3.9" class="u"/>
<line x1="718.1" y1="288.6" x2="718.1" y2="299.1" class="wu"/>
<rect x="716.5" y="288.8" width="3.2" height="10.9" class="u"/>
<line x1="722.8" y1="284.9" x2="722.8" y2="293.3" class="wu"/>
<rect x="721.2" y="286.2" width="3.2" height="6.6" class="u"/>
<line x1="727.4" y1="274.0" x2="727.4" y2="287.5" class="wu"/>
<rect x="725.8" y="273.5" width="3.2" height="13.0" class="u"/>
<line x1="732.0" y1="271.1" x2="732.0" y2="279.3" class="wd"/>
<rect x="730.4" y="273.4" width="3.2" height="3.7" class="d"/>
<line x1="736.6" y1="268.3" x2="736.6" y2="277.9" class="wu"/>
<rect x="735.0" y="270.5" width="3.2" height="5.2" class="u"/>
<line x1="741.3" y1="265.8" x2="741.3" y2="285.1" class="wd"/>
<rect x="739.7" y="266.6" width="3.2" height="16.7" class="d"/>
<line x1="745.9" y1="266.1" x2="745.9" y2="276.3" class="wu"/>
<rect x="744.3" y="267.3" width="3.2" height="8.4" class="u"/>
<line x1="750.5" y1="263.8" x2="750.5" y2="275.4" class="wd"/>
<rect x="748.9" y="266.1" width="3.2" height="6.4" class="d"/>
<line x1="755.1" y1="268.6" x2="755.1" y2="277.5" class="wu"/>
<rect x="753.5" y="269.4" width="3.2" height="6.4" class="u"/>
<line x1="759.8" y1="269.6" x2="759.8" y2="285.1" class="wd"/>
<rect x="758.2" y="269.7" width="3.2" height="8.6" class="d"/>
<line x1="764.4" y1="264.9" x2="764.4" y2="279.8" class="wd"/>
<rect x="762.8" y="273.7" width="3.2" height="4.6" class="d"/>
<line x1="769.0" y1="263.9" x2="769.0" y2="280.2" class="wu"/>
<rect x="767.4" y="264.1" width="3.2" height="9.4" class="u"/>
<line x1="773.6" y1="270.3" x2="773.6" y2="298.3" class="wd"/>
<rect x="772.0" y="269.8" width="3.2" height="23.3" class="d"/>
<line x1="778.3" y1="287.0" x2="778.3" y2="298.5" class="wu"/>
<rect x="776.7" y="294.2" width="3.2" height="4.1" class="u"/>
<line x1="782.9" y1="287.5" x2="782.9" y2="301.6" class="wd"/>
<rect x="781.3" y="293.1" width="3.2" height="6.0" class="d"/>
<line x1="787.5" y1="294.1" x2="787.5" y2="322.2" class="wd"/>
<rect x="785.9" y="297.2" width="3.2" height="24.2" class="d"/>
<line x1="792.2" y1="303.1" x2="792.2" y2="314.8" class="wu"/>
<rect x="790.6" y="305.7" width="3.2" height="7.8" class="u"/>
<line x1="796.8" y1="299.9" x2="796.8" y2="313.1" class="wu"/>
<rect x="795.2" y="299.5" width="3.2" height="3.0" class="u"/>
<line x1="801.4" y1="285.2" x2="801.4" y2="321.2" class="wu"/>
<rect x="799.8" y="286.2" width="3.2" height="14.5" class="u"/>
<line x1="806.0" y1="275.8" x2="806.0" y2="291.1" class="wu"/>
<rect x="804.4" y="276.4" width="3.2" height="10.0" class="u"/>
<line x1="810.7" y1="267.4" x2="810.7" y2="275.6" class="wu"/>
<rect x="809.1" y="269.3" width="3.2" height="6.3" class="u"/>
<line x1="815.3" y1="267.5" x2="815.3" y2="274.9" class="wu"/>
<rect x="813.7" y="267.7" width="3.2" height="5.2" class="u"/>
<line x1="819.9" y1="259.3" x2="819.9" y2="272.6" class="wd"/>
<rect x="818.3" y="262.4" width="3.2" height="5.9" class="d"/>
<line x1="824.5" y1="254.9" x2="824.5" y2="272.4" class="wd"/>
<rect x="822.9" y="265.7" width="3.2" height="6.5" class="d"/>
<line x1="829.2" y1="244.6" x2="829.2" y2="255.7" class="wu"/>
<rect x="827.6" y="248.8" width="3.2" height="3.6" class="u"/>
<line x1="833.8" y1="248.9" x2="833.8" y2="258.5" class="wd"/>
<rect x="832.2" y="249.6" width="3.2" height="3.0" class="d"/>
<line x1="838.4" y1="246.5" x2="838.4" y2="251.5" class="wu"/>
<rect x="836.8" y="247.4" width="3.2" height="3.0" class="u"/>
<line x1="843.0" y1="244.2" x2="843.0" y2="252.7" class="wu"/>
<rect x="841.4" y="243.9" width="3.2" height="3.0" class="u"/>
<line x1="847.7" y1="242.9" x2="847.7" y2="249.7" class="wd"/>
<rect x="846.1" y="244.1" width="3.2" height="3.7" class="d"/>
<line x1="852.3" y1="236.7" x2="852.3" y2="247.6" class="wd"/>
<rect x="850.7" y="237.4" width="3.2" height="5.0" class="d"/>
<line x1="856.9" y1="237.5" x2="856.9" y2="246.1" class="wd"/>
<rect x="855.3" y="239.0" width="3.2" height="5.0" class="d"/>
<line x1="861.5" y1="237.2" x2="861.5" y2="251.7" class="wu"/>
<rect x="859.9" y="237.3" width="3.2" height="9.4" class="u"/>
<line x1="866.2" y1="238.9" x2="866.2" y2="256.9" class="wd"/>
<rect x="864.6" y="238.4" width="3.2" height="12.5" class="d"/>
<line x1="870.8" y1="248.0" x2="870.8" y2="258.6" class="wu"/>
<rect x="869.2" y="249.7" width="3.2" height="3.7" class="u"/>
<line x1="875.4" y1="248.1" x2="875.4" y2="257.7" class="wu"/>
<rect x="873.8" y="251.2" width="3.2" height="3.0" class="u"/>
<line x1="880.0" y1="240.0" x2="880.0" y2="251.8" class="wu"/>
<rect x="878.4" y="240.0" width="3.2" height="4.2" class="u"/>
<line x1="884.7" y1="243.3" x2="884.7" y2="255.6" class="wd"/>
<rect x="883.1" y="243.1" width="3.2" height="10.8" class="d"/>
<line x1="889.3" y1="239.0" x2="889.3" y2="249.1" class="wu"/>
<rect x="887.7" y="240.0" width="3.2" height="8.5" class="u"/>
<line x1="893.9" y1="229.8" x2="893.9" y2="241.9" class="wu"/>
<rect x="892.3" y="230.4" width="3.2" height="10.4" class="u"/>
<line x1="898.6" y1="230.2" x2="898.6" y2="237.3" class="wu"/>
<rect x="897.0" y="232.4" width="3.2" height="3.0" class="u"/>
<line x1="903.2" y1="223.8" x2="903.2" y2="234.9" class="wu"/>
<rect x="901.6" y="225.0" width="3.2" height="10.4" class="u"/>
<line x1="907.8" y1="212.3" x2="907.8" y2="222.0" class="wu"/>
<rect x="906.2" y="214.5" width="3.2" height="8.0" class="u"/>
<line x1="912.4" y1="212.5" x2="912.4" y2="228.0" class="wd"/>
<rect x="910.8" y="212.9" width="3.2" height="13.1" class="d"/>
<line x1="917.1" y1="218.1" x2="917.1" y2="227.1" class="wu"/>
<rect x="915.5" y="218.6" width="3.2" height="7.1" class="u"/>
<line x1="921.7" y1="210.6" x2="921.7" y2="219.6" class="wd"/>
<rect x="920.1" y="210.8" width="3.2" height="9.0" class="d"/>
<line x1="926.3" y1="212.1" x2="926.3" y2="218.2" class="wu"/>
<rect x="924.7" y="213.0" width="3.2" height="3.0" class="u"/>
<line x1="930.9" y1="213.3" x2="930.9" y2="223.4" class="wd"/>
<rect x="929.3" y="214.4" width="3.2" height="3.0" class="d"/>
<line x1="935.6" y1="214.2" x2="935.6" y2="224.1" class="wu"/>
<rect x="934.0" y="216.5" width="3.2" height="5.3" class="u"/>
<line x1="940.2" y1="220.8" x2="940.2" y2="237.8" class="wd"/>
<rect x="938.6" y="220.4" width="3.2" height="9.7" class="d"/>
<line x1="944.8" y1="224.8" x2="944.8" y2="232.6" class="wd"/>
<rect x="943.2" y="224.4" width="3.2" height="3.0" class="d"/>
<line x1="949.4" y1="214.3" x2="949.4" y2="229.0" class="wd"/>
<rect x="947.8" y="222.2" width="3.2" height="5.4" class="d"/>
<line x1="954.1" y1="219.0" x2="954.1" y2="223.6" class="wd"/>
<rect x="952.5" y="220.6" width="3.2" height="3.4" class="d"/>
<line x1="958.7" y1="217.8" x2="958.7" y2="227.2" class="wu"/>
<rect x="957.1" y="219.8" width="3.2" height="3.0" class="u"/>
<line x1="963.3" y1="217.1" x2="963.3" y2="226.4" class="wd"/>
<rect x="961.7" y="220.9" width="3.2" height="5.5" class="d"/>
<line x1="967.9" y1="234.8" x2="967.9" y2="251.8" class="wd"/>
<rect x="966.3" y="234.3" width="3.2" height="17.4" class="d"/>
<line x1="972.6" y1="235.5" x2="972.6" y2="247.0" class="wu"/>
<rect x="971.0" y="244.9" width="3.2" height="3.0" class="u"/>
<line x1="977.2" y1="242.8" x2="977.2" y2="253.3" class="wd"/>
<rect x="975.6" y="246.1" width="3.2" height="3.9" class="d"/>
<line x1="981.8" y1="232.9" x2="981.8" y2="247.3" class="wu"/>
<rect x="980.2" y="232.6" width="3.2" height="15.2" class="u"/>
<line x1="986.4" y1="197.1" x2="986.4" y2="213.8" class="wu"/>
<rect x="984.8" y="198.2" width="3.2" height="16.0" class="u"/>
<line x1="991.1" y1="185.9" x2="991.1" y2="194.5" class="wu"/>
<rect x="989.5" y="187.9" width="3.2" height="7.1" class="u"/>
<line x1="995.7" y1="179.2" x2="995.7" y2="187.6" class="wu"/>
<rect x="994.1" y="182.6" width="3.2" height="5.4" class="u"/>
<line x1="1000.3" y1="178.0" x2="1000.3" y2="185.2" class="wd"/>
<rect x="998.7" y="179.4" width="3.2" height="3.0" class="d"/>
<line x1="1004.9" y1="179.8" x2="1004.9" y2="191.5" class="wd"/>
<rect x="1003.3" y="180.8" width="3.2" height="5.6" class="d"/>
<line x1="1009.6" y1="180.2" x2="1009.6" y2="189.3" class="wd"/>
<rect x="1008.0" y="184.0" width="3.2" height="3.0" class="d"/>
<line x1="1014.2" y1="183.5" x2="1014.2" y2="195.6" class="wd"/>
<rect x="1012.6" y="184.0" width="3.2" height="10.5" class="d"/>
<line x1="1018.8" y1="202.0" x2="1018.8" y2="216.6" class="wd"/>
<rect x="1017.2" y="202.1" width="3.2" height="10.9" class="d"/>
<line x1="1023.5" y1="203.7" x2="1023.5" y2="213.5" class="wu"/>
<rect x="1021.9" y="206.6" width="3.2" height="5.6" class="u"/>
<line x1="1028.1" y1="201.5" x2="1028.1" y2="216.1" class="wu"/>
<rect x="1026.5" y="201.1" width="3.2" height="12.1" class="u"/>
<line x1="1032.7" y1="200.7" x2="1032.7" y2="214.8" class="wu"/>
<rect x="1031.1" y="200.3" width="3.2" height="3.0" class="u"/>
<line x1="1037.3" y1="190.9" x2="1037.3" y2="208.9" class="wu"/>
<rect x="1035.7" y="193.6" width="3.2" height="6.7" class="u"/>
<line x1="1042.0" y1="188.5" x2="1042.0" y2="195.2" class="wu"/>
<rect x="1040.4" y="188.8" width="3.2" height="6.9" class="u"/>
<line x1="1046.6" y1="177.2" x2="1046.6" y2="190.6" class="wd"/>
<rect x="1045.0" y="183.0" width="3.2" height="3.0" class="d"/>
<line x1="1051.2" y1="176.1" x2="1051.2" y2="183.9" class="wu"/>
<rect x="1049.6" y="176.5" width="3.2" height="6.1" class="u"/>
<line x1="1055.8" y1="177.4" x2="1055.8" y2="185.6" class="wd"/>
<rect x="1054.2" y="178.3" width="3.2" height="4.6" class="d"/>
<line x1="1060.5" y1="171.7" x2="1060.5" y2="181.2" class="wu"/>
<rect x="1058.9" y="174.0" width="3.2" height="7.7" class="u"/>
<line x1="1065.1" y1="169.5" x2="1065.1" y2="173.8" class="wu"/>
<rect x="1063.5" y="170.4" width="3.2" height="3.0" class="u"/>
<line x1="1069.7" y1="169.9" x2="1069.7" y2="174.3" class="wu"/>
<rect x="1068.1" y="169.7" width="3.2" height="3.0" class="u"/>
<line x1="1074.3" y1="161.7" x2="1074.3" y2="168.8" class="wu"/>
<rect x="1072.7" y="161.3" width="3.2" height="5.0" class="u"/>
<line x1="1079.0" y1="159.8" x2="1079.0" y2="165.7" class="wd"/>
<rect x="1077.4" y="160.7" width="3.2" height="4.3" class="d"/>
<line x1="1083.6" y1="158.6" x2="1083.6" y2="163.3" class="wu"/>
<rect x="1082.0" y="160.4" width="3.2" height="3.1" class="u"/>
</g>
<line x1="0" y1="621.8" x2="1080" y2="621.8" stroke="#a8a8a8" stroke-width="1.7"/>
</svg>
<div id="legend"></div>
<div class="t" style="left:74.78px;top:126.61px;font-family:&quot;Liberation Sans&quot;;font-weight:normal;font-size:9.3px;color:#cfcfcf;transform:scaleX(1.122);-webkit-text-stroke:0px #cfcfcf">6090.27</div>
<div class="t" style="left:74.78px;top:136.71px;font-family:&quot;Liberation Sans&quot;;font-weight:normal;font-size:9.3px;color:#cfcfcf;transform:scaleX(1.122);-webkit-text-stroke:0px #cfcfcf">6099.97</div>
<div class="t" style="left:74.88px;top:146.81px;font-family:&quot;Liberation Sans&quot;;font-weight:normal;font-size:9.3px;color:#cfcfcf;transform:scaleX(1.118);-webkit-text-stroke:0px #cfcfcf">5353.06</div>
<div class="t" style="left:75.09px;top:156.91px;font-family:&quot;Liberation Sans&quot;;font-weight:normal;font-size:9.3px;color:#cfcfcf;transform:scaleX(1.112);-webkit-text-stroke:0px #cfcfcf">4593.39</div>
<div class="t" style="left:74.88px;top:167.11px;font-family:&quot;Liberation Sans&quot;;font-weight:normal;font-size:9.3px;color:#cfcfcf;transform:scaleX(1.118);-webkit-text-stroke:0px #cfcfcf">5873.42</div>
<div class="t" style="left:74.89px;top:177.21px;font-family:&quot;Liberation Sans&quot;;font-weight:normal;font-size:9.3px;color:#cfcfcf;transform:scaleX(1.112);-webkit-text-stroke:0px #cfcfcf">5699.94</div>
<div class="t" style="left:74.88px;top:187.41px;font-family:&quot;Liberation Sans&quot;;font-weight:normal;font-size:9.3px;color:#cfcfcf;transform:scaleX(1.118);-webkit-text-stroke:0px #cfcfcf">5481.52</div>
<div class="t" style="left:-0.38px;top:127.12px;font-family:&quot;Liberation Sans&quot;;font-weight:normal;font-size:9.3px;color:#cfcfcf;transform:scaleX(1.031);-webkit-text-stroke:0px #cfcfcf">ce</div>
<div class="t" style="left:-0.2px;top:136.98px;font-family:&quot;Liberation Sans&quot;;font-weight:normal;font-size:9.3px;color:#cfcfcf;transform:scaleX(1.234);-webkit-text-stroke:0px #cfcfcf">12/06/24</div>
<div class="t" style="left:0.87px;top:157.18px;font-family:&quot;Liberation Sans&quot;;font-weight:normal;font-size:9.3px;color:#cfcfcf;transform:scaleX(1.364);-webkit-text-stroke:0px #cfcfcf">2/11/23</div>
<div class="t" style="left:-0.48px;top:167.38px;font-family:&quot;Liberation Sans&quot;;font-weight:normal;font-size:9.3px;color:#cfcfcf;transform:scaleX(1.3);-webkit-text-stroke:0px #cfcfcf">50)</div>
<div class="t" style="left:23.88px;top:167.38px;font-family:&quot;Liberation Sans&quot;;font-weight:normal;font-size:9.3px;color:#cfcfcf;transform:scaleX(1.125);-webkit-text-stroke:0px #cfcfcf">on Close</div>
<div class="t" style="left:-0.82px;top:177.48px;font-family:&quot;Liberation Sans&quot;;font-weight:normal;font-size:9.3px;color:#cfcfcf;transform:scaleX(1.254);-webkit-text-stroke:0px #cfcfcf">100)</div>
<div class="t" style="left:29.47px;top:177.48px;font-family:&quot;Liberation Sans&quot;;font-weight:normal;font-size:9.3px;color:#cfcfcf;transform:scaleX(1.145);-webkit-text-stroke:0px #cfcfcf">on Close</div>
<div class="t" style="left:-0.58px;top:187.68px;font-family:&quot;Liberation Sans&quot;;font-weight:normal;font-size:9.3px;color:#cfcfcf;transform:scaleX(1.24);-webkit-text-stroke:0px #cfcfcf">200)</div>
<div class="t" style="left:29.47px;top:187.68px;font-family:&quot;Liberation Sans&quot;;font-weight:normal;font-size:9.3px;color:#cfcfcf;transform:scaleX(1.145);-webkit-text-stroke:0px #cfcfcf">on Close</div>
<!-- axis labels -->
<div class="a ax" style="left:33px">Jan</div>
<div class="a ax" style="left:127px">Feb</div>
<div class="a ax" style="left:219px">Mar</div>
<div class="a ax" style="left:317px">Apr</div>
<div class="a ax" style="left:417px">May</div>
<div class="a ax" style="left:514px">Jun</div>
<div class="a ax" style="left:610px">Jul</div>
<div class="a ax" style="left:709px">Aug</div>
<div class="a ax" style="left:807px">Sep</div>
<div class="a ax" style="left:906px">Oct</div>
<div class="a ax" style="left:1005px">Nov</div>
<div class="a ax" style="left:537px;top:634px">2024</div>
<!-- footer -->
<div class="a ft" style="left:55px;top:645.3px">Australia 61 2 9777 8600 Brazil 5511 2395 9000 Europe 44 20 7330 7500 Germany 49 69 9204 1210 Hong Kong 852 2977 6000</div>
<div class="a ft" style="left:55px;top:653.5px">Japan 81 3 4565 8900      Singapore 65 6212 1000      U.S. 1 212 318 2000       Copyright 2024 Bloomberg Finance L.P.</div>
<div class="a ft" style="left:685px;top:661.5px">SN 4319905 EST  GMT-5:00 Da375-174 08-Dec-2024 14:00:00</div>
</body></html>
